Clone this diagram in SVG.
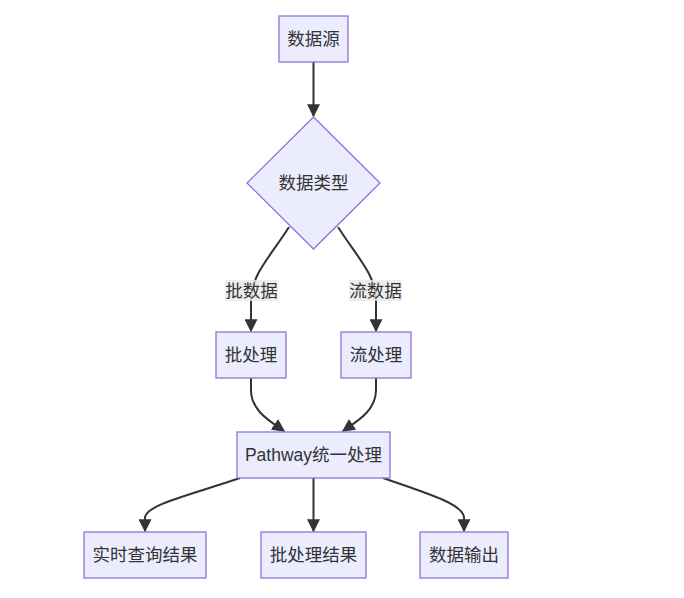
<svg xmlns="http://www.w3.org/2000/svg" width="684" height="598" viewBox="0 0 684 598">
<style>
.node rect,.node polygon{fill:#ECECFF;stroke:#9370DB;stroke-width:1.3}
text{font-family:"Liberation Sans","Noto Sans CJK SC",sans-serif;font-size:17.5px;fill:#333;text-anchor:middle;dominant-baseline:central}
.edge{fill:none;stroke:#333;stroke-width:2;marker-end:url(#arr)}
.lbl{fill:#e8e8e8;opacity:0.8}
</style>
<defs>
<marker id="arr" viewBox="0 0 10 10" refX="9" refY="5" markerWidth="13" markerHeight="13" markerUnits="userSpaceOnUse" orient="auto">
<path d="M0,0 L10,5 L0,10 z" fill="#333"/>
</marker>
</defs>
<rect width="684" height="598" fill="#fff"/>
<g id="connectors">
<path class="edge" d="M313.5,62 L313.5,116"/>
<path class="edge" d="M289,227 C270,257 251,275 251,300 L251,331"/>
<path class="edge" d="M338,227 C357,257 376,275 376,300 L376,331"/>
<path class="edge" d="M251,378 L251,390 C251,410 268,420 284,431"/>
<path class="edge" d="M376,378 L376,390 C376,410 359,420 343,431"/>
<path class="edge" d="M240,478 C190,495 145,505 145,518 L145,531"/>
<path class="edge" d="M313.5,478 L313.5,531"/>
<path class="edge" d="M383,478 C433,495 464,505 464,518 L464,531"/>
<rect class="lbl" x="225" y="280" width="53" height="21"/>
<text x="251.5" y="290.5">批数据</text>
<rect class="lbl" x="349" y="280" width="53" height="21"/>
<text x="375.5" y="290.5">流数据</text>
</g>
<g id="n1" class="node"><rect x="279" y="16" width="69" height="46"/><text x="313.5" y="39">数据源</text></g>
<g id="n2" class="node"><polygon points="313.5,117 380,183 313.5,249 247,183"/><text x="313.5" y="183">数据类型</text></g>
<g id="n3" class="node"><rect x="216" y="332" width="70" height="46"/><text x="251" y="355">批处理</text></g>
<g id="n4" class="node"><rect x="341" y="332" width="70" height="46"/><text x="376" y="355">流处理</text></g>
<g id="n5" class="node"><rect x="237" y="432" width="153" height="46"/><text x="313.5" y="455">Pathway统一处理</text></g>
<g id="n6" class="node"><rect x="84" y="532" width="122" height="46"/><text x="145" y="555">实时查询结果</text></g>
<g id="n7" class="node"><rect x="261" y="532" width="105" height="46"/><text x="313.5" y="555">批处理结果</text></g>
<g id="n8" class="node"><rect x="420" y="532" width="88" height="46"/><text x="464" y="555">数据输出</text></g>
</svg>
